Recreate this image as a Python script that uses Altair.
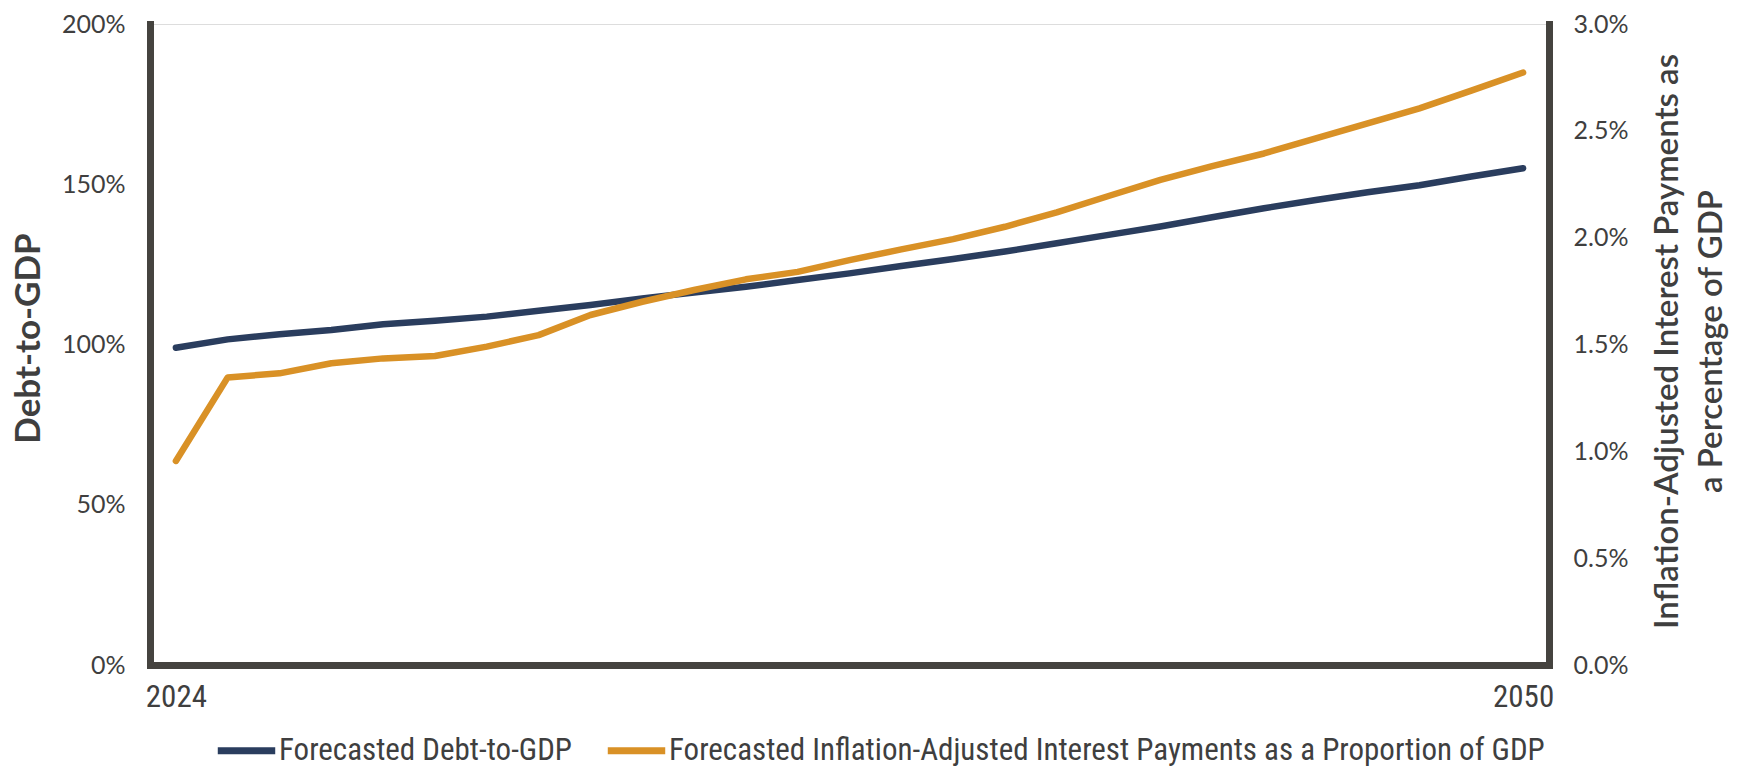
import altair as alt
import pandas as pd

years = list(range(2024, 2051))
debt_to_gdp = [99.0, 101.6, 103.2, 104.5, 106.3, 107.4, 108.7, 110.5, 112.3, 114.4,
               116.2, 118.0, 120.1, 122.2, 124.5, 126.7, 129.0, 131.6, 134.2, 136.8,
               139.7, 142.5, 145.1, 147.5, 149.7, 152.4, 155.0]
interest_pct_gdp = [0.955, 1.346, 1.365, 1.412, 1.435, 1.446, 1.49, 1.544, 1.638, 1.70,
                    1.755, 1.805, 1.840, 1.895, 1.945, 1.993, 2.051, 2.118, 2.195, 2.27,
                    2.335, 2.394, 2.465, 2.535, 2.605, 2.688, 2.773]
series_names = ["Forecasted Debt-to-GDP",
                "Forecasted Inflation-Adjusted Interest Payments as a Proportion of GDP"]
series_colors = ["#2a3d5e", "#d99126"]
left_ticks = [0, 50, 100, 150, 200]
right_ticks = [0, 0.5, 1.0, 1.5, 2.0, 2.5, 3.0]
x_label_years = [2024, 2050]

rows = []
for y, v in zip(years, debt_to_gdp):
    rows.append({"year": y, "series": series_names[0], "value": v})
for y, v in zip(years, interest_pct_gdp):
    rows.append({"year": y, "series": series_names[1], "value": v})
df = pd.DataFrame(rows)

AXIS_COLOR = "#45433f"
TEXT_COLOR = "#3f3f3f"
TICK_FONT = "Lato"
NARROW = "Liberation Sans Narrow, Roboto Condensed, Lato"

legend = alt.Legend(
    orient="none", legendX=64, legendY=694, direction="horizontal",
    title=None, symbolType="stroke", symbolSize=3300, symbolStrokeWidth=7,
    labelFont=NARROW, labelFontSize=31, labelColor=TEXT_COLOR,
    labelOffset=0, columnPadding=20, padding=0, labelLimit=1200,
)
color = alt.Color("series:N", scale=alt.Scale(domain=series_names, range=series_colors),
                  legend=legend)

x = alt.X("year:O", scale=alt.Scale(type="point", padding=0.5),
          axis=alt.Axis(values=x_label_years, labelAngle=0, title=None, ticks=False,
                        domainColor=AXIS_COLOR, domainWidth=7, domainCap="square",
                        labelFont=NARROW, labelFontSize=31, labelColor=TEXT_COLOR,
                        labelPadding=17, grid=False))

left = alt.Chart(df).transform_filter(
    alt.datum.series == series_names[0]
).mark_line(strokeWidth=6.5, strokeCap="round", strokeJoin="round").encode(
    x=x,
    y=alt.Y("value:Q", scale=alt.Scale(domain=[0, 200], nice=False),
            axis=alt.Axis(values=left_ticks, labelExpr="datum.value + '%'",
                          title="Debt-to-GDP", titleFont=TICK_FONT, titleFontSize=35,
                          titleFontWeight="bold", titleColor=TEXT_COLOR,
                          titleX=-122, titleY=314, titleAngle=270, titleBaseline="middle",
                          titleAlign="center",
                          ticks=False, grid=False, domainColor=AXIS_COLOR, domainWidth=7,
                          domainCap="square",
                          labelFont=TICK_FONT, labelFontSize=25, labelColor=TEXT_COLOR,
                          labelPadding=25)),
    color=color,
)

right = alt.Chart(df).transform_filter(
    alt.datum.series == series_names[1]
).mark_line(strokeWidth=6.5, strokeCap="round", strokeJoin="round").encode(
    x=x,
    y=alt.Y("value:Q", scale=alt.Scale(domain=[0, 3], nice=False),
            axis=alt.Axis(orient="right", values=right_ticks,
                          labelExpr="format(datum.value, '.1f') + '%'",
                          title=["Inflation-Adjusted Interest Payments as", "a Percentage of GDP"],
                          titleFont=TICK_FONT, titleFontSize=33, titleFontWeight=600,
                          titleColor=TEXT_COLOR, titleLineHeight=44,
                          titleX=118, titleY=317, titleAngle=270, titleBaseline="middle",
                          titleAlign="center",
                          ticks=False, grid=False, domainColor=AXIS_COLOR, domainWidth=7,
                          domainCap="square",
                          labelFont=TICK_FONT, labelFontSize=25, labelColor=TEXT_COLOR,
                          labelPadding=24)),
    color=color,
)

chart = alt.layer(left, right).resolve_scale(y="independent").properties(
    width=1399, height=641,
    autosize=alt.AutoSizeParams(type="none"),
    padding={"left": 150, "top": 24, "right": 188, "bottom": 102},
).configure_view(stroke=None).configure(background="white")

chart.save("out.html", embed_options={"renderer": "svg", "actions": False})
